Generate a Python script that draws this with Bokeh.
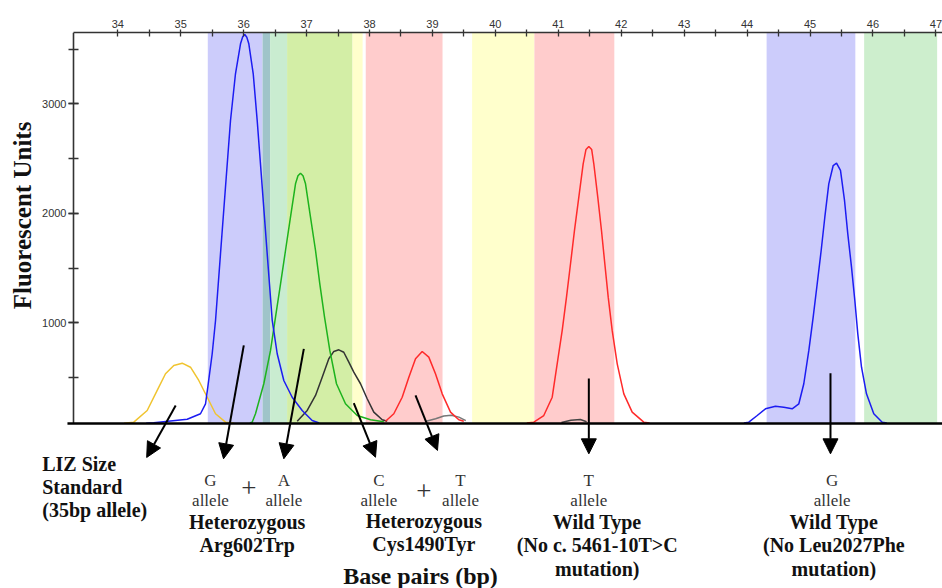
from bokeh.plotting import figure
from bokeh.models import Range1d, SingleIntervalTicker, FixedTicker, Label, Arrow, NormalHead, ColumnDataSource
from bokeh.embed import file_html
from bokeh.resources import INLINE
import math

# ---------------- data (base pairs vs fluorescent units) ----------------
bp_ticks = [34, 35, 36, 37, 38, 39, 40, 41, 42, 43, 44, 45, 46, 47]

bin_start = [35.43, 36.30, 36.42, 36.69, 37.73, 37.94, 39.63, 40.62, 44.31, 45.86]
bin_end   = [36.30, 36.42, 36.69, 37.73, 37.89, 39.16, 40.62, 41.89, 45.72, 47.02]
bin_color = ["#ccccfb", "#9fc4c9", "#c9ecd0", "#d3eea6", "#ffffcc",
             "#ffcccc", "#ffffcc", "#ffcccc", "#ccccfb", "#cdeecd"]

liz_bp = [34.10, 34.254, 34.467, 34.626, 34.758, 34.890, 35.023, 35.155, 35.287, 35.421, 35.553, 35.711, 35.85]
liz_fu = [84, 94, 201, 384, 536, 612, 633, 596, 475, 322, 171, 94, 84]

blue1_bp = [34.45, 34.572, 35.103, 35.314, 35.394, 35.430, 35.500, 35.553, 35.632, 35.711, 35.791, 35.870,
            35.950, 35.985, 36.018, 36.050, 36.082, 36.152, 36.215, 36.295, 36.374, 36.454, 36.533, 36.638,
            36.771, 36.930, 37.089, 37.20]
blue1_fu = [84, 88, 121, 171, 262, 414, 719, 1023, 1632, 2240, 2849, 3276,
            3550, 3615, 3635, 3610, 3550, 3276, 2849, 2240, 1632, 1023, 719, 475,
            322, 201, 110, 86]

green_bp = [36.10, 36.135, 36.188, 36.320, 36.427, 36.506, 36.586, 36.665, 36.744, 36.824, 36.863, 36.903,
            36.943, 36.983, 37.062, 37.142, 37.210, 37.285, 37.369, 37.475, 37.618, 37.804, 38.016, 38.227]
green_fu = [86, 94, 171, 445, 749, 1053, 1358, 1662, 1966, 2271, 2345, 2368,
            2345, 2271, 1966, 1662, 1358, 1053, 749, 445, 262, 155, 116, 97]

black_bp = [36.851, 37.010, 37.142, 37.248, 37.353, 37.433, 37.512, 37.591, 37.671, 37.750, 37.857, 37.963,
            38.068, 38.202, 38.281]
black_fu = [103, 201, 338, 505, 673, 740, 755, 733, 642, 551, 445, 308, 186, 116, 103]

red1_bp = [38.254, 38.386, 38.519, 38.625, 38.731, 38.837, 38.942, 39.048, 39.155, 39.287, 39.419, 39.498]
red1_fu = [103, 171, 322, 505, 673, 740, 688, 536, 353, 186, 116, 103]

grey1_bp = [38.90, 39.05, 39.18, 39.30, 39.42, 39.53]
grey1_fu = [103, 125, 150, 158, 140, 108]

red2_bp = [40.50, 40.611, 40.769, 40.903, 40.982, 41.062, 41.130, 41.194, 41.257, 41.326, 41.395, 41.44,
           41.485, 41.53, 41.564, 41.627, 41.686, 41.739, 41.793, 41.856, 41.936, 42.041, 42.174, 42.358, 42.45]
red2_fu = [86, 94, 155, 322, 627, 932, 1236, 1541, 1845, 2149, 2454, 2585,
           2612, 2585, 2454, 2149, 1845, 1541, 1236, 932, 627, 353, 186, 94, 86]

grey2_bp = [41.05, 41.20, 41.35, 41.45]
grey2_fu = [92, 112, 118, 98]

blue2_bp = [43.95, 44.027, 44.161, 44.292, 44.451, 44.583, 44.716, 44.822, 44.901, 44.981, 45.050, 45.114,
            45.177, 45.235, 45.298, 45.368, 45.421, 45.484, 45.548, 45.600, 45.659, 45.712, 45.759, 45.818,
            45.897, 46.013, 46.147, 46.22]
blue2_fu = [86, 94, 155, 216, 240, 231, 216, 262, 445, 749, 1053, 1358,
            1662, 1966, 2271, 2438, 2460, 2393, 2119, 1814, 1510, 1205, 901, 596,
            353, 171, 94, 86]

baseline_fu = 82
top_fu = 3653
axis_bp = 33.296
end_bp = 47.105

# ---------------- figure ----------------
p = figure(width=942, height=588, output_backend="svg", toolbar_location=None,
           x_range=Range1d(32.136, end_bp), y_range=Range1d(-1425, top_fu),
           x_axis_location="above", tools="")
p.min_border = 0
p.min_border_left = 0
p.min_border_top = 32
p.min_border_right = 0
p.min_border_bottom = 0
p.grid.visible = False
p.outline_line_color = None
p.background_fill_color = "white"
p.border_fill_color = "white"

xa = p.xaxis[0]
xa.ticker = FixedTicker(ticks=bp_ticks, minor_ticks=[t + 0.5 for t in bp_ticks[:-1]])
xa.bounds = (axis_bp, end_bp)
xa.axis_line_color = "#333333"
xa.axis_line_width = 1.6
xa.major_tick_line_color = "#333333"
xa.minor_tick_line_color = "#333333"
xa.major_tick_line_width = 1.3
xa.minor_tick_line_width = 1.3
xa.major_tick_in = 4
xa.major_tick_out = 3
xa.minor_tick_in = 4
xa.minor_tick_out = 3
xa.major_label_standoff = 2
xa.major_label_text_font = "Liberation Sans"
xa.major_label_text_font_size = "11px"
xa.major_label_text_color = "#333333"

ya = p.yaxis[0]
ya.fixed_location = axis_bp
ya.ticker = SingleIntervalTicker(interval=1000, num_minor_ticks=2)
ya.bounds = (baseline_fu, top_fu)
ya.axis_line_color = "#333333"
ya.axis_line_width = 1.6
ya.major_tick_line_color = "#333333"
ya.minor_tick_line_color = "#333333"
ya.major_tick_line_width = 1.3
ya.minor_tick_line_width = 1.3
ya.major_tick_in = 5
ya.major_tick_out = 5
ya.minor_tick_in = 5
ya.minor_tick_out = 5
ya.major_label_standoff = 2
ya.major_label_text_font = "Liberation Sans"
ya.major_label_text_font_size = "11px"
ya.major_label_text_color = "#333333"

# bins
src = ColumnDataSource(dict(left=bin_start, right=bin_end, color=bin_color))
p.quad(left="left", right="right", bottom=baseline_fu, top=top_fu, fill_color="color",
       line_color=None, source=src)

# traces
lw = 1.5
p.line(liz_bp, liz_fu, line_color="#f0c430", line_width=lw)
p.line(black_bp, black_fu, line_color="#333333", line_width=lw)
p.line(grey1_bp, grey1_fu, line_color="#777777", line_width=lw)
p.line(grey2_bp, grey2_fu, line_color="#444444", line_width=lw)
p.line(green_bp, green_fu, line_color="#1db31d", line_width=lw)
p.line(red1_bp, red1_fu, line_color="#ff2a2a", line_width=lw)
p.line(red2_bp, red2_fu, line_color="#ff2a2a", line_width=lw)
p.line(blue1_bp, blue1_fu, line_color="#1c1cf2", line_width=lw)
p.line(blue2_bp, blue2_fu, line_color="#1c1cf2", line_width=lw)

# baseline
p.add_layout(Arrow(end=None, x_start=33.2, y_start=baseline_fu, x_end=end_bp, y_end=baseline_fu,
                   line_color="black", line_width=2.4))

# arrows
arrows = [
    (34.920, 247, 34.459, -228),
    (36.002, 795, 35.680, -240),
    (36.956, 764, 36.638, -240),
    (37.750, 268, 38.095, -226),
    (38.731, 338, 39.080, -164),
    (41.485, 493, 41.485, -195),
    (45.325, 542, 45.325, -195),
]
for xs, ys, xe, ye in arrows:
    p.add_layout(Arrow(end=NormalHead(size=15, fill_color="black", line_color="black"),
                       x_start=xs, y_start=ys, x_end=xe, y_end=ye,
                       line_color="black", line_width=2))

SERIF = "Liberation Serif"


def lab(x, y, t, size="20px", style="bold", align="center", color="#111111", angle=0):
    p.add_layout(Label(x=x, y=y, text=t, text_font=SERIF, text_font_size=size,
                       text_font_style=style, text_align=align, text_baseline="middle",
                       text_color=color, angle=angle))


# left group
lab(32.799, -286, "LIZ Size", align="left")
lab(32.799, -500, "Standard", align="left")
lab(32.799, -712, "(35bp allele)", align="left")

small = "17px"
grey = "#333333"
for x, letter in [(35.473, "G"), (36.638, "A"), (38.148, "C"), (39.446, "T"),
                  (41.484, "T"), (45.352, "G")]:
    lab(x, -438, letter, size=small, style="normal", color=grey)
    lab(x, -621, "allele", size=small, style="normal", color=grey)

lab(36.082, -511, "+", size="27px", style="normal", color=grey)
lab(38.863, -530, "+", size="27px", style="normal", color=grey)

lab(36.056, -819, "Heterozygous")
lab(36.056, -1032, "Arg602Trp")
lab(38.863, -806, "Heterozygous")
lab(38.863, -1016, "Cys1490Tyr")

lab(41.618, -819, "Wild Type")
lab(41.618, -1032, "(No c. 5461-10T>C")
lab(41.618, -1245, "mutation)")

lab(45.378, -819, "Wild Type")
lab(45.378, -1032, "(No Leu2027Phe")
lab(45.378, -1245, "mutation)")

lab(38.810, -1312, "Base pairs (bp)", size="24px")
lab(32.486, 1982, "Fluorescent Units", size="25px", angle=math.pi / 2)

open("out.html", "w").write(file_html(p, INLINE))
